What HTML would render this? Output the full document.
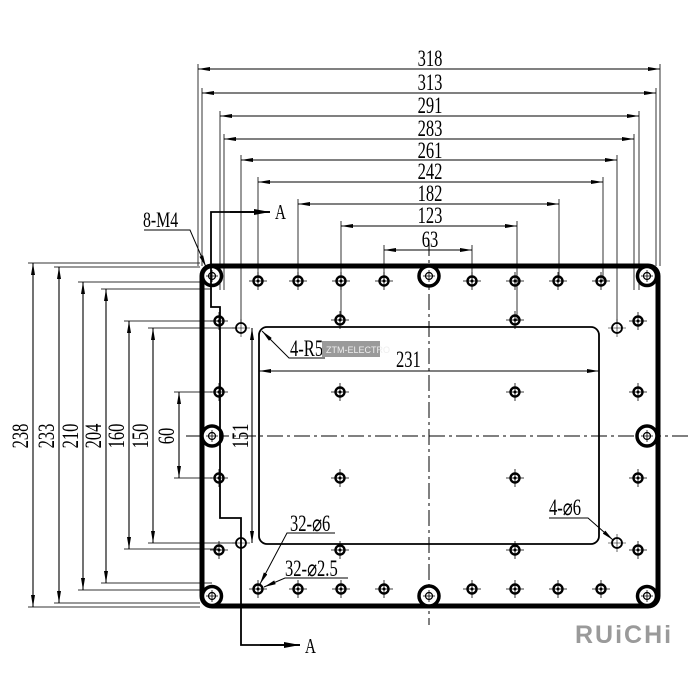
<!DOCTYPE html>
<html><head><meta charset="utf-8"><style>
html,body{margin:0;padding:0;background:#fff}
svg{display:block}
text{font-family:"Liberation Serif",serif;fill:#000}
</style></head><body>
<svg width="700" height="700" viewBox="0 0 700 700" xmlns="http://www.w3.org/2000/svg">
<defs>
<marker id="a" viewBox="0 0 12 4" refX="12" refY="2" markerWidth="12" markerHeight="4" orient="auto-start-reverse" markerUnits="userSpaceOnUse"><path d="M0,0 L12,2 L0,4z" fill="#000"/></marker>
<marker id="b" viewBox="0 0 16 6" refX="16" refY="3" markerWidth="16" markerHeight="6" orient="auto" markerUnits="userSpaceOnUse"><path d="M0,0 L16,3 L0,6z" fill="#000"/></marker>
<g id="h"><circle r="4.5" fill="none" stroke="#000" stroke-width="2.4"/><circle r="1.5" fill="#000"/><path d="M-9,0H9M0,-9V9" stroke="#000" stroke-width="0.8"/></g>
<g id="s"><circle r="5" fill="#fff" stroke="#000" stroke-width="1.8"/><path d="M-9,0H9M0,-9V9" stroke="#000" stroke-width="0.6"/></g>
<g id="m"><circle r="3.5" fill="none" stroke="#000" stroke-width="1.2"/><path d="M-6,0H6M0,-6V6" stroke="#000" stroke-width="0.8"/></g>
</defs>

<g stroke="#333" stroke-width="1" fill="none">
<path d="M198,64V266 M660,64V266"/>
<path d="M202,88V266 M656,88V266"/>
<path d="M220,111V290 M639,111V290"/>
<path d="M224,134V290 M634,134V290"/>
<path d="M241,155V328 M617,155V328"/>
<path d="M258,177V281 M603,177V281"/>
<path d="M298,199V281 M559,199V281"/>
<path d="M341,221V321 M517,221V321"/>
<path d="M384,245V281 M472,245V281"/>
</g>
<g stroke="#000" stroke-width="1.1" marker-start="url(#a)" marker-end="url(#a)">
<line x1="198" y1="69" x2="660" y2="69"/>
<line x1="202" y1="93" x2="656" y2="93"/>
<line x1="220" y1="116" x2="639" y2="116"/>
<line x1="224" y1="139" x2="634" y2="139"/>
<line x1="241" y1="160" x2="617" y2="160"/>
<line x1="258" y1="182" x2="603" y2="182"/>
<line x1="298" y1="204" x2="559" y2="204"/>
<line x1="341" y1="226" x2="517" y2="226"/>
<line x1="384" y1="250" x2="472" y2="250"/>
</g>
<g font-size="23" text-anchor="middle">
<text transform="translate(430,66) scale(0.72,1)">318</text>
<text transform="translate(430,90) scale(0.72,1)">313</text>
<text transform="translate(430,113) scale(0.72,1)">291</text>
<text transform="translate(430,136) scale(0.72,1)">283</text>
<text transform="translate(430,158) scale(0.72,1)">261</text>
<text transform="translate(430,179) scale(0.72,1)">242</text>
<text transform="translate(430,201) scale(0.72,1)">182</text>
<text transform="translate(430,223) scale(0.72,1)">123</text>
<text transform="translate(430,247) scale(0.72,1)">63</text>
</g>

<g stroke="#333" stroke-width="1" fill="none">
<path d="M28,263H200 M28,607H200"/>
<path d="M54,267H200 M54,603H200"/>
<path d="M78,282H212 M78,590H212"/>
<path d="M101,289H212 M101,583H212"/>
<path d="M124,321H219 M124,549H219"/>
<path d="M148,328H241 M148,543H241"/>
<path d="M174,392H212 M174,478H212"/>
</g>
<g stroke="#000" stroke-width="1.1" marker-start="url(#a)" marker-end="url(#a)">
<line x1="33" y1="263" x2="33" y2="607"/>
<line x1="59" y1="267" x2="59" y2="603"/>
<line x1="83" y1="282" x2="83" y2="590"/>
<line x1="106" y1="289" x2="106" y2="583"/>
<line x1="129" y1="321" x2="129" y2="549"/>
<line x1="153" y1="328" x2="153" y2="543"/>
<line x1="179" y1="392" x2="179" y2="478"/>
<line x1="252" y1="328" x2="252" y2="543"/>
</g>
<g font-size="23" text-anchor="middle">
<text transform="translate(28,436) rotate(-90) scale(0.72,1)">238</text>
<text transform="translate(54,436) rotate(-90) scale(0.72,1)">233</text>
<text transform="translate(78,436) rotate(-90) scale(0.72,1)">210</text>
<text transform="translate(101,436) rotate(-90) scale(0.72,1)">204</text>
<text transform="translate(124,436) rotate(-90) scale(0.72,1)">160</text>
<text transform="translate(148,436) rotate(-90) scale(0.72,1)">150</text>
<text transform="translate(174,436) rotate(-90) scale(0.72,1)">60</text>
<text transform="translate(248,436) rotate(-90) scale(0.72,1)">151</text>
</g>

<g stroke="#000" stroke-width="1" stroke-dasharray="16,4,3,4">
<line x1="186" y1="436" x2="690" y2="436"/>
<line x1="429" y1="240" x2="429" y2="625"/>
</g>

<rect x="202" y="266" width="456" height="340" rx="10" fill="none" stroke="#000" stroke-width="5"/>
<g fill="#fff" stroke="#000" stroke-width="3.5">
<circle cx="212" cy="276" r="9.5"/><circle cx="647" cy="276" r="9.5"/>
<circle cx="212" cy="596" r="9.5"/><circle cx="647" cy="596" r="9.5"/>
<circle cx="429" cy="276" r="10"/><circle cx="429" cy="596" r="10"/>
<circle cx="212" cy="436" r="10"/><circle cx="647" cy="436" r="10"/>
</g>
<g>
<use href="#m" x="212" y="276"/><use href="#m" x="647" y="276"/><use href="#m" x="212" y="596"/><use href="#m" x="647" y="596"/>
<use href="#m" x="429" y="276"/><use href="#m" x="429" y="596"/><use href="#m" x="212" y="436"/><use href="#m" x="647" y="436"/>
</g>

<rect x="259" y="327" width="340" height="217" rx="8" fill="none" stroke="#000" stroke-width="1.8"/>

<g>
<use href="#h" x="258" y="281"/><use href="#h" x="298" y="281"/><use href="#h" x="341" y="281"/><use href="#h" x="384" y="281"/>
<use href="#h" x="472" y="281"/><use href="#h" x="515" y="281"/><use href="#h" x="558" y="281"/><use href="#h" x="601" y="281"/>
<use href="#h" x="258" y="589"/><use href="#h" x="298" y="589"/><use href="#h" x="341" y="589"/><use href="#h" x="384" y="589"/>
<use href="#h" x="472" y="589"/><use href="#h" x="515" y="589"/><use href="#h" x="558" y="589"/><use href="#h" x="601" y="589"/>
<use href="#h" x="219" y="321"/><use href="#h" x="340" y="320"/><use href="#h" x="515" y="320"/><use href="#h" x="638" y="321"/>
<use href="#h" x="219" y="392"/><use href="#h" x="340" y="392"/><use href="#h" x="515" y="392"/><use href="#h" x="638" y="392"/>
<use href="#h" x="219" y="478"/><use href="#h" x="340" y="478"/><use href="#h" x="515" y="478"/><use href="#h" x="638" y="478"/>
<use href="#h" x="219" y="550"/><use href="#h" x="340" y="550"/><use href="#h" x="515" y="550"/><use href="#h" x="638" y="550"/>
<use href="#s" x="241" y="328"/><use href="#s" x="617" y="328"/><use href="#s" x="241" y="543"/><use href="#s" x="617" y="543"/>
</g>

<line x1="259" y1="371" x2="599" y2="371" stroke="#000" stroke-width="1.1" marker-start="url(#a)" marker-end="url(#a)"/>
<text font-size="23" transform="translate(396,367) scale(0.72,1)">231</text>

<path d="M270,212H211V307H220V518H241V645H300" fill="none" stroke="#000" stroke-width="1.8"/>
<line x1="230" y1="212" x2="270" y2="212" stroke="#000" stroke-width="1.8" marker-end="url(#b)"/>
<line x1="260" y1="645" x2="300" y2="645" stroke="#000" stroke-width="1.8" marker-end="url(#b)"/>
<text font-size="21" transform="translate(275,219) scale(0.72,1)">A</text>
<text font-size="21" transform="translate(305,653) scale(0.72,1)">A</text>

<text font-size="22" transform="translate(143,227) scale(0.72,1)">8-M4</text>
<path d="M144,230H190L206,267" fill="none" stroke="#000" stroke-width="1" marker-end="url(#a)"/>
<text font-size="23" transform="translate(290,356) scale(0.72,1)">4-R5</text>
<path d="M325,358H289L262,331" fill="none" stroke="#000" stroke-width="1" marker-end="url(#a)"/>
<rect x="322" y="341" width="58" height="16" fill="#9a9a9a"/>
<text x="326" y="353" font-size="9" style="font-family:'Liberation Sans',sans-serif;fill:#eee">ZTM-ELECTRO</text>
<text font-size="23" transform="translate(549,515) scale(0.72,1)">4-⌀6</text>
<path d="M549,518H588L613,540" fill="none" stroke="#000" stroke-width="1" marker-end="url(#a)"/>
<text font-size="23" transform="translate(290,531) scale(0.72,1)">32-⌀6</text>
<path d="M335,533H287L260,584" fill="none" stroke="#000" stroke-width="1" marker-end="url(#a)"/>
<text font-size="23" transform="translate(285,576) scale(0.72,1)">32-⌀2.5</text>
<path d="M348,578H285L264,587" fill="none" stroke="#000" stroke-width="1" marker-end="url(#a)"/>

<text x="575" y="643" font-size="25" font-weight="bold" style="font-family:'Liberation Sans',sans-serif;fill:#9a9a9a;letter-spacing:2px">RUiCHi</text>
</svg>
</body></html>
